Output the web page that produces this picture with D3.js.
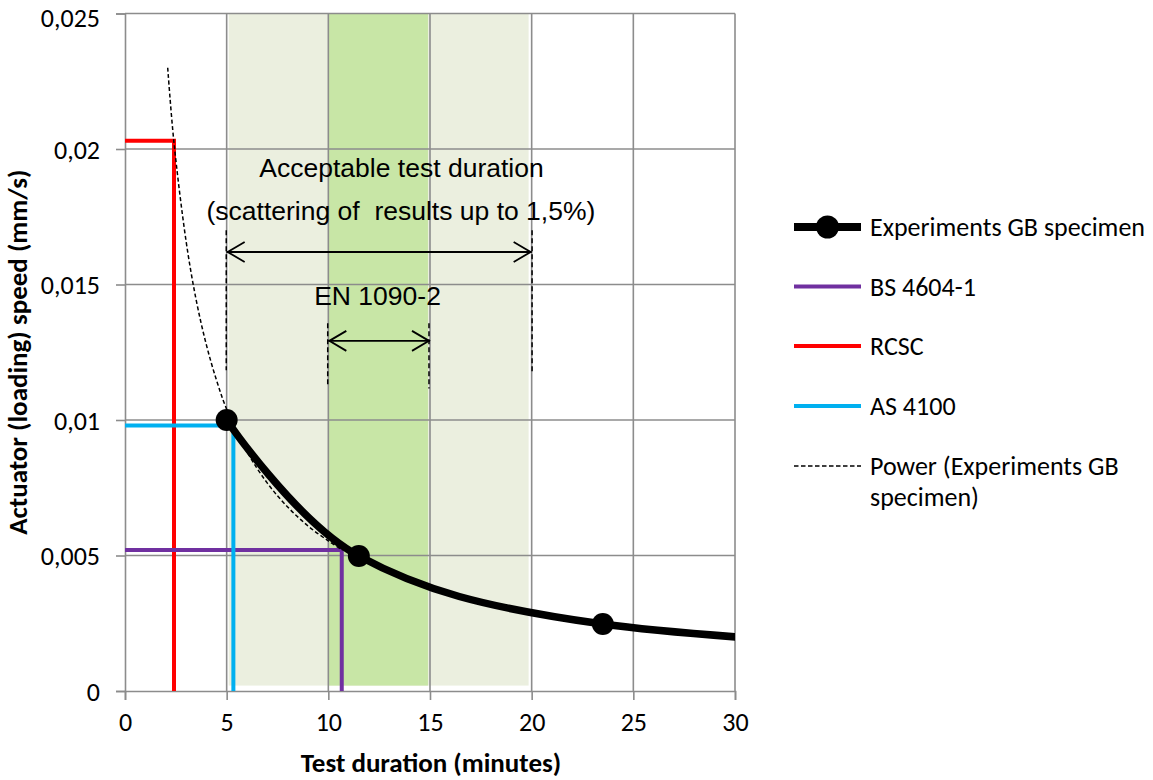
<!DOCTYPE html>
<html>
<head>
<meta charset="utf-8">
<script src="https://cdn.jsdelivr.net/npm/d3@7"></script>
<style>
  html, body { margin: 0; padding: 0; background: #fff; }
  svg { display: block; }
  text { white-space: pre; }
</style>
</head>
<body>
<svg id="chart" width="1153" height="780"></svg>
<script>
// ---------------- data ----------------
const xTicks = [0, 5, 10, 15, 20, 25, 30];
const yTicks = [0, 0.005, 0.01, 0.015, 0.02, 0.025];
const yTickLabels = ["0", "0,005", "0,01", "0,015", "0,02", "0,025"];

// Experiments GB specimen (duration in minutes, speed in mm/s)
const expX = [5, 11.5, 23.5, 47];
const expY = [0.0100, 0.00498, 0.00247, 0.00125];

// Power trendline
const powX = [2.1, 2.4, 3, 3.5, 4, 4.5, 5, 6, 7, 8, 9, 10, 10.7];
const powY = [0.0230, 0.0203, 0.01662, 0.01443, 0.01278, 0.01147, 0.0104, 0.00883, 0.00767, 0.00679, 0.00609, 0.00554, 0.0052];

// Code limits (step lines)
const bsX = [0, 10.66, 10.66];   const bsY = [0.0052, 0.0052, 0];
const rcX = [0, 2.41, 2.41];     const rcY = [0.0203, 0.0203, 0];
const asX = [0, 5.33, 5.33];     const asY = [0.0098, 0.0098, 0];

// Shaded bands [x0, x1]
const bandOuter = [5.1, 19.85];
const bandInner = [10.0, 14.9];
const bandY = [0.0002, 0.025];

// Annotation arrows: [x0, x1, y]
const arrowAcceptable = [5, 20, 0.0162];
const arrowEN = [10, 15, 0.01292];
// dashed guide lines: [x, y0, y1]
const guides = [
  [4.98, 0.01700, 0.01184],
  [20.02, 0.01700, 0.01175],
  [9.97, 0.01357, 0.01130],
  [14.95, 0.01357, 0.01116]
];
const labels = [
  {text: "Acceptable test duration", x: 13.6, y: 0.01897},
  {text: "(scattering of  results up to 1,5%)", x: 13.57, y: 0.01737},
  {text: "EN 1090-2", x: 12.42, y: 0.01423}
];

const legendItems = [
  {name: "Experiments GB specimen", type: "exp", color: "#000"},
  {name: "BS 4604-1", type: "line", color: "#7030a0"},
  {name: "RCSC", type: "line", color: "#ff0000"},
  {name: "AS 4100", type: "line", color: "#00b0f0"},
  {name: ["Power (Experiments GB", "specimen)"], type: "dash", color: "#000"}
];

// ---------------- layout ----------------
const svg = d3.select("#chart");
const L = 125, R = 735, T = 13.5, B = 691;
const x = d3.scaleLinear().domain([0, 30]).range([L, R]);
const y = d3.scaleLinear().domain([0, 0.025]).range([B, T]);
const calibri = "Carlito, Calibri, Lato, 'Noto Sans', sans-serif";
const arial = "'Liberation Sans', Arial, sans-serif";
const gridColor = "#8c8c8c";

svg.append("defs").append("clipPath").attr("id", "plotclip")
  .append("rect").attr("x", L).attr("y", T).attr("width", R - L).attr("height", B - T);

// bands
svg.append("rect").attr("x", x(bandOuter[0])).attr("width", x(bandOuter[1]) - x(bandOuter[0]))
  .attr("y", y(bandY[1])).attr("height", y(bandY[0]) - y(bandY[1])).attr("fill", "#ebefdf");
svg.append("rect").attr("x", x(bandInner[0])).attr("width", x(bandInner[1]) - x(bandInner[0]))
  .attr("y", y(bandY[1])).attr("height", y(bandY[0]) - y(bandY[1])).attr("fill", "#c8e6a6");

// gridlines
const grid = svg.append("g").attr("stroke", gridColor).attr("stroke-width", 1.6);
grid.selectAll("line.v").data(xTicks.slice(1)).join("line")
  .attr("x1", d => x(d)).attr("x2", d => x(d)).attr("y1", T).attr("y2", B);
grid.selectAll("line.h").data(yTicks.slice(1)).join("line")
  .attr("y1", d => y(d)).attr("y2", d => y(d)).attr("x1", L).attr("x2", R);

// axes
const xAxis = d3.axisBottom(x).tickValues(xTicks).tickSize(9).tickFormat(d => d);
const yAxis = d3.axisLeft(y).tickValues(yTicks).tickSize(9).tickFormat((d, i) => yTickLabels[i]);
const gx = svg.append("g").attr("transform", `translate(0,${B})`).call(xAxis);
const gy = svg.append("g").attr("transform", `translate(${L},0)`).call(yAxis);
[gx, gy].forEach(g => {
  g.select(".domain").attr("stroke", gridColor).attr("stroke-width", 1.6);
  g.selectAll(".tick line").attr("stroke", gridColor).attr("stroke-width", 1.6);
  g.selectAll(".tick text").attr("font-family", calibri).attr("font-size", 26).attr("fill", "#000");
});
gx.selectAll(".tick text").attr("dy", null).attr("y", 40);
gy.selectAll(".tick text").attr("x", -25).attr("dy", "0.35em");
// keep the top label inside the picture
gy.selectAll(".tick text").filter(d => d === 0.025).attr("dy", "0.5em");

// axis titles
svg.append("text").attr("x", (L + R) / 2 + 1).attr("y", 772).attr("text-anchor", "middle")
  .attr("font-family", calibri).attr("font-weight", "bold").attr("font-size", 27).text("Test duration (minutes)");
svg.append("text").attr("transform", `translate(27,${(T + B) / 2}) rotate(-90)`).attr("text-anchor", "middle")
  .attr("font-family", calibri).attr("font-weight", "bold").attr("font-size", 27).text("Actuator (loading) speed (mm/s)");

// series
const plot = svg.append("g").attr("clip-path", "url(#plotclip)");
const line = d3.line().x(d => x(d[0])).y(d => y(d[1]));
const steps = [[rcX, rcY, "#ff0000"], [bsX, bsY, "#7030a0"], [asX, asY, "#00b0f0"]];
steps.forEach(([xs, ys, c]) => {
  plot.append("path").datum(xs.map((v, i) => [v, ys[i]])).attr("d", line)
    .attr("fill", "none").attr("stroke", c).attr("stroke-width", 4);
});
const expPts = expX.map((v, i) => [v, expY[i]]);
plot.append("path").datum(expPts).attr("d", line.curve(d3.curveCardinal.tension(0)))
  .attr("fill", "none").attr("stroke", "#000").attr("stroke-width", 7.5);
plot.selectAll("circle.exp").data(expPts).join("circle")
  .attr("cx", d => x(d[0])).attr("cy", d => y(d[1])).attr("r", 11).attr("fill", "#000");
plot.append("path").datum(powX.map((v, i) => [v, powY[i]]))
  .attr("d", d3.line().x(d => x(d[0])).y(d => y(d[1])).curve(d3.curveCatmullRom))
  .attr("fill", "none").attr("stroke", "#000").attr("stroke-width", 1.5).attr("stroke-dasharray", "4,2.5");

// annotations
const ann = svg.append("g").attr("stroke", "#000").attr("fill", "none");
guides.forEach(g => {
  ann.append("line").attr("x1", x(g[0])).attr("x2", x(g[0])).attr("y1", y(g[1])).attr("y2", y(g[2]))
    .attr("stroke-width", 1.5).attr("stroke-dasharray", "5,3");
});
function arrow(a) {
  const x0 = x(a[0]), x1 = x(a[1]), yy = y(a[2]);
  ann.append("line").attr("x1", x0).attr("x2", x1).attr("y1", yy).attr("y2", yy).attr("stroke-width", 1.8);
  ann.append("path").attr("d", `M${x0 + 18},${yy - 10}L${x0 + 1},${yy}L${x0 + 18},${yy + 10}`).attr("stroke-width", 1.8);
  ann.append("path").attr("d", `M${x1 - 18},${yy - 10}L${x1 - 1},${yy}L${x1 - 18},${yy + 10}`).attr("stroke-width", 1.8);
}
arrow(arrowAcceptable);
arrow(arrowEN);
labels.forEach(l => {
  svg.append("text").attr("x", x(l.x)).attr("y", y(l.y)).attr("text-anchor", "middle")
    .attr("font-family", arial).attr("font-size", 26.5).attr("fill", "#000").text(l.text);
});

// legend
const lg = svg.append("g");
const lgX0 = 794, lgX1 = 861, lgTextX = 870;
const rowY = [227, 286.5, 346, 406, 466];
legendItems.forEach((it, i) => {
  const yy = rowY[i];
  if (it.type === "exp") {
    lg.append("line").attr("x1", lgX0).attr("x2", lgX1).attr("y1", yy).attr("y2", yy)
      .attr("stroke", "#000").attr("stroke-width", 8);
    lg.append("circle").attr("cx", (lgX0 + lgX1) / 2).attr("cy", yy).attr("r", 11.5).attr("fill", "#000");
  } else if (it.type === "line") {
    lg.append("line").attr("x1", lgX0).attr("x2", lgX1).attr("y1", yy).attr("y2", yy)
      .attr("stroke", it.color).attr("stroke-width", 4);
  } else {
    lg.append("line").attr("x1", lgX0).attr("x2", lgX1).attr("y1", yy).attr("y2", yy)
      .attr("stroke", it.color).attr("stroke-width", 1.5).attr("stroke-dasharray", "4.5,2.5");
  }
  const names = Array.isArray(it.name) ? it.name : [it.name];
  names.forEach((n, k) => {
    lg.append("text").attr("x", lgTextX).attr("y", yy + k * 31).attr("dy", "0.35em")
      .attr("font-family", calibri).attr("font-size", 26).attr("fill", "#000").text(n);
  });
});
</script>
</body>
</html>
